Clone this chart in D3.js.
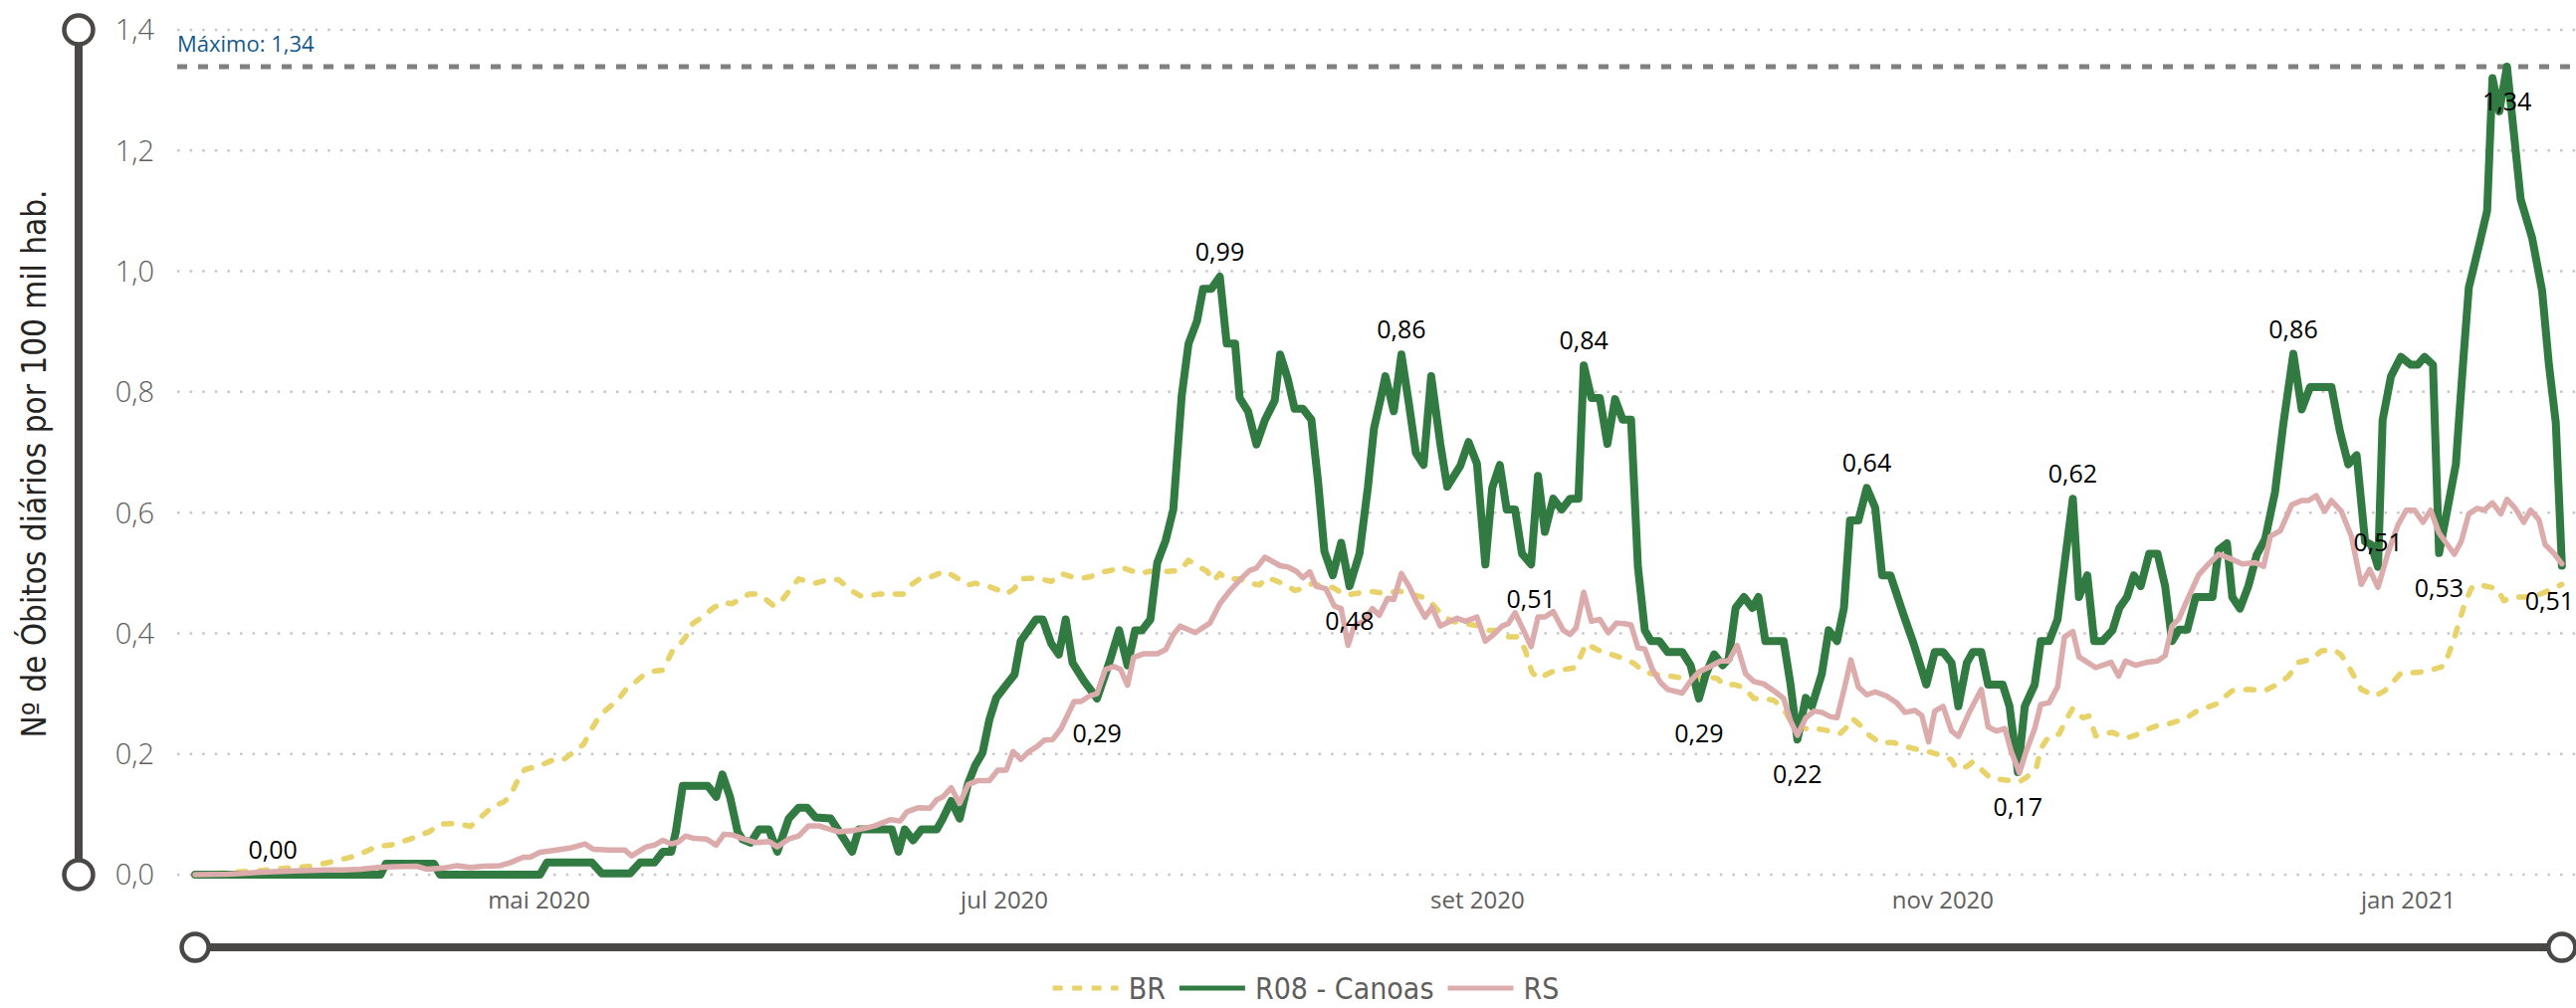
<!DOCTYPE html>
<html><head><meta charset="utf-8">
<script src="https://cdn.jsdelivr.net/npm/d3@7"></script>
<style>body{margin:0;background:#fff;overflow:hidden}svg{display:block}</style>
</head><body>
<svg id="c" width="2588" height="1013"></svg>
<script>
// ---------- DATA ----------
const START_DATE = "2020-03-17";           // day 0 of the series
const monthNames = ["jan","fev","mar","abr","mai","jun","jul","ago","set","out","nov","dez"];
const yTicks = [0, 0.2, 0.4, 0.6, 0.8, 1.0, 1.2, 1.4];
const seriesNames = ["BR", "R08 - Canoas", "RS"];
const axisTitle = "Nº de Óbitos diários por 100 mil hab.";

// [day since START_DATE, value]
const brData = [[0,0],[5.2,0.004],[8.7,0.007],[12.1,0.011],[15.2,0.014],[17.8,0.021],[20.4,0.029],[22.1,0.037],[23.9,0.047],[25.6,0.049],[28.2,0.059],[30.8,0.072],[32.1,0.084],[34.3,0.085],[36.1,0.080],[37.4,0.095],[39.1,0.114],[40.4,0.120],[41.3,0.130],[42.1,0.152],[43.2,0.174],[45.2,0.181],[46.9,0.190],[48.2,0.190],[49.5,0.202],[50.9,0.216],[52.0,0.242],[53.0,0.263],[54.3,0.278],[55.4,0.289],[56.5,0.308],[57.6,0.318],[58.7,0.330],[60.0,0.337],[61.3,0.339],[62.6,0.372],[63.5,0.381],[64.3,0.394],[65.2,0.416],[66.5,0.427],[67.8,0.441],[69.1,0.451],[70.4,0.449],[71.3,0.456],[72.6,0.465],[73.7,0.465],[74.8,0.456],[75.9,0.445],[77.0,0.456],[78.3,0.478],[79.1,0.490],[81.3,0.483],[83.0,0.489],[84.3,0.489],[86.1,0.470],[87.2,0.462],[88.3,0.462],[89.6,0.465],[91.3,0.465],[92.8,0.465],[93.9,0.481],[95.2,0.492],[96.5,0.494],[98.3,0.503],[99.8,0.492],[101.3,0.480],[102.2,0.483],[103.9,0.478],[105.2,0.472],[106.3,0.465],[107.4,0.474],[108.0,0.490],[109.5,0.491],[110.8,0.490],[112.2,0.486],[113.5,0.499],[114.8,0.494],[116.1,0.491],[117.4,0.494],[118.7,0.501],[120.0,0.504],[121.3,0.510],[122.6,0.504],[123.9,0.499],[125.2,0.503],[126.5,0.502],[127.8,0.503],[129.1,0.504],[130.2,0.521],[131.3,0.512],[132.6,0.503],[133.5,0.487],[134.3,0.499],[135.2,0.490],[137.0,0.490],[138.2,0.483],[139.5,0.480],[140.4,0.492],[141.7,0.487],[143.0,0.480],[144.1,0.471],[145.2,0.474],[146.5,0.483],[147.8,0.477],[149.1,0.476],[150.8,0.463],[152.6,0.467],[154.3,0.469],[156.0,0.466],[157.8,0.470],[160.8,0.460],[162.1,0.449],[163.4,0.431],[164.7,0.420],[166.5,0.416],[168.2,0.412],[169.5,0.405],[170.8,0.405],[172.1,0.394],[173.4,0.394],[174.3,0.373],[175.2,0.336],[176.0,0.325],[177.8,0.336],[179.5,0.340],[180.8,0.343],[181.7,0.365],[182.3,0.383],[183.9,0.372],[185.6,0.365],[187.3,0.358],[188.6,0.350],[189.9,0.336],[191.3,0.332],[192.6,0.330],[193.9,0.328],[195.2,0.325],[196.5,0.325],[198.2,0.328],[199.5,0.325],[200.4,0.314],[201.7,0.315],[203.0,0.310],[204.3,0.292],[205.6,0.292],[206.9,0.289],[208.2,0.275],[209.5,0.245],[211.7,0.241],[213.0,0.241],[214.3,0.238],[215.6,0.234],[216.5,0.245],[217.2,0.259],[218.2,0.248],[219.5,0.230],[220.8,0.219],[222.6,0.219],[223.9,0.213],[225.6,0.208],[227.4,0.203],[229.1,0.197],[230.2,0.190],[230.8,0.176],[232.2,0.179],[233.0,0.187],[234.3,0.172],[235.2,0.161],[236.5,0.158],[237.8,0.156],[239.1,0.154],[240.0,0.161],[241.3,0.176],[241.9,0.209],[243.0,0.230],[244.3,0.233],[245.2,0.256],[246.1,0.276],[247.4,0.260],[248.2,0.263],[249.1,0.230],[250.0,0.233],[251.3,0.236],[253.0,0.226],[254.3,0.231],[256.1,0.242],[257.4,0.248],[258.7,0.250],[260.9,0.259],[262.6,0.273],[264.8,0.282],[267.0,0.305],[269.1,0.307],[271.3,0.305],[273.0,0.316],[274.3,0.328],[275.7,0.352],[277.4,0.357],[278.7,0.371],[280.4,0.372],[281.3,0.364],[282.6,0.337],[283.9,0.307],[285.7,0.296],[287.0,0.305],[289.1,0.334],[291.3,0.335],[293.0,0.339],[294.8,0.346],[296.1,0.392],[297.4,0.447],[298.3,0.474],[299.1,0.481],[301.7,0.474],[302.6,0.454],[303.9,0.460],[305.7,0.460],[307.4,0.465],[308.7,0.472],[310.2,0.481]];

const canoasData = [[0,0],[10.2,0],[24.3,0],[25.0,0.018],[31.3,0.018],[32.1,0],[45.2,0],[46.1,0.02],[52.0,0.02],[53.3,0.002],[57.0,0.002],[58.3,0.020],[60.2,0.020],[61.3,0.038],[62.4,0.038],[63.0,0.071],[63.9,0.147],[67.2,0.147],[68.3,0.129],[69.1,0.166],[70.1,0.129],[71.1,0.071],[71.7,0.059],[72.8,0.053],[73.9,0.075],[75.2,0.075],[76.3,0.038],[77.8,0.093],[79.1,0.111],[80.2,0.111],[81.3,0.095],[83.3,0.093],[84.8,0.064],[86.1,0.038],[87.0,0.075],[91.3,0.075],[92.2,0.038],[93.0,0.075],[94.1,0.057],[95.2,0.075],[97.2,0.075],[98.0,0.093],[99.1,0.122],[100.2,0.093],[101.3,0.151],[102.2,0.180],[103.2,0.202],[104.1,0.257],[105.0,0.293],[106.1,0.311],[107.4,0.332],[108.2,0.387],[110.2,0.423],[111.1,0.423],[112.2,0.383],[113.2,0.365],[114.1,0.423],[115.0,0.351],[116.5,0.321],[118.2,0.292],[119.8,0.351],[121.1,0.405],[122.2,0.347],[123.2,0.405],[124.1,0.405],[125.2,0.423],[126.1,0.517],[127.2,0.554],[128.2,0.605],[129.3,0.793],[130.2,0.880],[131.3,0.917],[132.1,0.971],[133.2,0.971],[134.3,0.991],[135.2,0.880],[136.3,0.880],[136.9,0.790],[138.0,0.768],[139.1,0.713],[140.2,0.753],[141.5,0.786],[142.2,0.862],[143.2,0.822],[144.1,0.772],[145.2,0.772],[146.3,0.754],[147.2,0.648],[148.0,0.536],[149.1,0.496],[150.2,0.550],[151.3,0.478],[152.6,0.532],[153.7,0.641],[154.5,0.739],[155.4,0.790],[156.0,0.826],[157.1,0.768],[158.1,0.862],[159.1,0.779],[160.0,0.699],[161.0,0.679],[162.0,0.826],[163.2,0.714],[164.1,0.643],[165.8,0.677],[166.9,0.717],[168.0,0.681],[169.1,0.514],[170.0,0.641],[171.0,0.679],[171.9,0.605],[173.0,0.605],[173.9,0.532],[175.1,0.514],[176.0,0.661],[176.9,0.568],[178.0,0.623],[179.1,0.605],[180.2,0.623],[181.3,0.623],[182.0,0.844],[183.0,0.790],[184.1,0.790],[185.1,0.714],[186.1,0.788],[187.1,0.754],[188.2,0.754],[189.1,0.510],[190.0,0.405],[190.8,0.387],[191.9,0.387],[193.0,0.369],[194.9,0.369],[196.0,0.347],[197.1,0.292],[198.0,0.332],[199.1,0.365],[200.2,0.347],[201.0,0.358],[201.9,0.442],[203.0,0.460],[204.1,0.442],[204.9,0.460],[205.8,0.387],[208.2,0.387],[209.1,0.315],[210.0,0.224],[211.1,0.293],[211.9,0.279],[213.2,0.333],[214.1,0.405],[215.2,0.387],[216.1,0.442],[216.9,0.587],[218.0,0.587],[219.1,0.641],[220.2,0.608],[221.1,0.496],[222.2,0.496],[223.9,0.431],[225.2,0.384],[226.9,0.315],[228.0,0.369],[229.1,0.369],[230.2,0.351],[231.1,0.279],[232.2,0.351],[233.0,0.369],[234.1,0.369],[235.0,0.315],[236.9,0.315],[237.8,0.279],[238.9,0.170],[239.8,0.279],[241.1,0.315],[241.9,0.387],[243.0,0.387],[244.1,0.423],[245.0,0.514],[246.1,0.623],[246.9,0.460],[248.0,0.496],[248.9,0.387],[250.0,0.387],[251.3,0.405],[252.2,0.442],[253.2,0.460],[254.1,0.496],[255.0,0.478],[256.1,0.532],[257.2,0.532],[258.2,0.478],[259.1,0.387],[260.0,0.406],[261.1,0.406],[262.2,0.460],[264.4,0.460],[265.2,0.538],[266.3,0.549],[267.0,0.460],[268.0,0.441],[269.1,0.478],[270.2,0.530],[271.3,0.556],[272.6,0.634],[273.7,0.748],[275.0,0.863],[276.1,0.771],[277.2,0.808],[280.0,0.808],[281.1,0.735],[282.2,0.680],[283.3,0.695],[284.4,0.552],[285.2,0.547],[286.1,0.510],[286.7,0.753],[287.8,0.826],[289.1,0.858],[290.4,0.845],[291.3,0.845],[292.2,0.858],[293.3,0.845],[294.1,0.533],[295.2,0.606],[296.3,0.680],[297.2,0.840],[298.0,0.973],[299.4,1.046],[300.4,1.100],[301.1,1.320],[302.0,1.265],[303.0,1.339],[303.9,1.229],[304.8,1.119],[306.3,1.055],[307.6,0.968],[308.5,0.845],[309.4,0.749],[310.2,0.512]];

const rsData = [[0,0],[4.3,0.001],[8.7,0.004],[13.0,0.006],[17.4,0.008],[19.5,0.008],[21.7,0.009],[23.9,0.012],[26.0,0.013],[29.1,0.014],[30.4,0.009],[32.6,0.011],[34.3,0.015],[36.1,0.012],[37.8,0.014],[40.0,0.015],[41.3,0.020],[43.0,0.029],[43.9,0.029],[45.2,0.037],[46.9,0.040],[49.1,0.044],[51.1,0.051],[52.2,0.042],[54.3,0.041],[56.3,0.041],[57.2,0.031],[59.1,0.046],[60.2,0.049],[61.3,0.057],[62.4,0.051],[63.3,0.054],[64.3,0.064],[65.4,0.060],[67.0,0.059],[68.3,0.049],[69.3,0.067],[70.4,0.066],[71.7,0.060],[73.5,0.053],[75.2,0.055],[76.3,0.046],[77.8,0.059],[79.1,0.064],[80.4,0.081],[81.7,0.081],[84.3,0.071],[86.1,0.073],[87.8,0.077],[89.1,0.081],[91.1,0.091],[92.4,0.089],[93.3,0.104],[94.8,0.111],[96.3,0.110],[97.2,0.124],[98.0,0.129],[99.1,0.144],[100.2,0.118],[101.3,0.149],[102.6,0.156],[104.1,0.156],[105.2,0.173],[106.3,0.173],[107.2,0.204],[108.2,0.191],[109.3,0.204],[110.4,0.213],[111.3,0.223],[112.4,0.224],[113.5,0.242],[115.2,0.287],[116.1,0.287],[117.2,0.296],[118.2,0.300],[119.3,0.340],[120.4,0.345],[121.3,0.340],[122.2,0.314],[123.0,0.360],[124.3,0.366],[126.1,0.366],[127.2,0.373],[128.2,0.398],[129.1,0.412],[131.1,0.401],[133.0,0.417],[134.3,0.449],[135.6,0.470],[136.9,0.488],[138.2,0.504],[139.1,0.508],[140.2,0.526],[142.2,0.512],[143.2,0.510],[144.3,0.503],[145.2,0.492],[146.1,0.502],[146.9,0.478],[148.2,0.474],[149.3,0.445],[150.2,0.441],[151.1,0.380],[151.9,0.412],[153.2,0.420],[154.3,0.441],[155.2,0.430],[156.3,0.458],[157.1,0.456],[158.1,0.499],[159.1,0.478],[160.2,0.449],[161.2,0.427],[162.1,0.443],[163.2,0.412],[164.5,0.420],[165.4,0.425],[166.5,0.420],[168.0,0.427],[169.1,0.387],[170.2,0.398],[171.3,0.412],[172.1,0.416],[173.0,0.434],[174.1,0.405],[175.1,0.378],[176.0,0.427],[176.9,0.427],[178.0,0.436],[179.3,0.405],[180.2,0.398],[181.0,0.409],[182.0,0.468],[183.0,0.420],[184.1,0.423],[185.2,0.401],[186.3,0.417],[187.3,0.416],[188.2,0.414],[189.1,0.376],[190.0,0.374],[191.0,0.340],[192.1,0.318],[193.0,0.307],[194.9,0.301],[196.0,0.321],[197.1,0.336],[198.6,0.345],[199.9,0.354],[201.0,0.354],[202.1,0.380],[203.2,0.333],[204.3,0.320],[205.6,0.316],[207.1,0.303],[208.2,0.292],[209.1,0.255],[210.0,0.231],[211.1,0.260],[212.2,0.271],[213.2,0.269],[214.3,0.262],[215.2,0.260],[216.2,0.311],[217.0,0.356],[218.0,0.311],[219.1,0.298],[220.2,0.303],[221.7,0.296],[223.0,0.285],[224.1,0.269],[225.4,0.272],[226.3,0.264],[227.2,0.220],[228.0,0.271],[229.1,0.279],[230.2,0.238],[231.1,0.229],[232.6,0.271],[234.1,0.307],[235.0,0.245],[236.1,0.238],[237.2,0.242],[238.0,0.205],[239.1,0.169],[240.0,0.205],[241.1,0.242],[241.9,0.282],[243.0,0.285],[244.1,0.311],[245.0,0.394],[246.1,0.403],[246.9,0.361],[249.1,0.343],[251.1,0.352],[252.1,0.329],[253.0,0.354],[254.3,0.347],[255.8,0.352],[257.2,0.354],[258.2,0.363],[259.1,0.412],[260.0,0.424],[261.3,0.461],[262.6,0.497],[263.9,0.515],[265.2,0.531],[266.5,0.525],[268.3,0.515],[270.0,0.517],[271.1,0.511],[272.0,0.561],[273.3,0.570],[274.8,0.613],[276.1,0.620],[277.0,0.620],[278.0,0.628],[279.1,0.602],[280.0,0.620],[281.3,0.602],[282.6,0.561],[283.9,0.481],[285.0,0.506],[286.1,0.476],[287.4,0.533],[288.7,0.579],[289.8,0.604],[290.9,0.604],[292.0,0.584],[293.0,0.604],[294.1,0.566],[296.1,0.531],[297.0,0.552],[298.0,0.598],[299.1,0.607],[300.0,0.604],[301.1,0.616],[302.2,0.598],[303.0,0.622],[304.1,0.607],[305.2,0.584],[306.1,0.604],[307.2,0.588],[308.0,0.547],[309.1,0.533],[310.2,0.515]];

// data labels on the R08 - Canoas series: day and side
const labelDays  = [10.2, 118.2, 134.3, 151.3, 158.1, 175.1, 182.0, 197.1, 210.0, 219.1, 238.9, 246.1, 275.0, 286.1, 294.1, 303.0, 310.2];
const labelSides = ["above","below","above","below","above","below","above","below","below","above","below","above","above","above","below","below","below"];

// ---------- CHART ----------
const W = 2588, H = 1013;
const svg = d3.select("#c");
svg.append("rect").attr("width", W).attr("height", H).attr("fill", "#fff");

const loc = d3.formatLocale({decimal: ",", thousands: ".", grouping: [3], currency: ["R$", ""]});
const f1 = loc.format(".1f"), f2 = loc.format(".2f");

const start = new Date(START_DATE + "T00:00:00Z");
const dayToDate = d => new Date(start.getTime() + d * 864e5);

const plotLeft = 178, plotRight = 2588;
const x = d3.scaleUtc()
  .domain([new Date(Date.UTC(2020, 4, 1)), new Date(Date.UTC(2021, 0, 1))])
  .range([541, 2419]);
const y = d3.scaleLinear().domain([0, 1.4]).range([879, 30]);

const sansFont = "'Open Sans','Noto Sans','DejaVu Sans',sans-serif";
const dinFont = "'DejaVu Sans Condensed','DejaVu Sans',sans-serif";

// gridlines
svg.append("g").selectAll("line").data(yTicks).join("line")
  .attr("x1", plotLeft).attr("x2", plotRight)
  .attr("y1", d => y(d)).attr("y2", d => y(d))
  .attr("stroke", "#c8c6c4").attr("stroke-width", 2.5)
  .attr("stroke-dasharray", "2.5,10.1");

// y axis labels
const yAxis = d3.axisLeft(y).tickValues(yTicks).tickFormat(f1).tickSize(0).tickPadding(0);
const gy = svg.append("g").attr("transform", "translate(155,0)").call(yAxis);
gy.select(".domain").remove();
gy.selectAll("text").attr("font-family", sansFont).attr("font-size", 29)
  .attr("font-weight", 300).attr("fill", "#605e5c").attr("dy", "0.34em");

// x axis labels
const xAxis = d3.axisBottom(x).ticks(d3.utcMonth.every(2))
  .tickFormat(d => monthNames[d.getUTCMonth()] + " " + d.getUTCFullYear())
  .tickSize(0).tickPadding(0);
const gx = svg.append("g").attr("transform", "translate(0,913)").call(xAxis);
gx.select(".domain").remove();
gx.selectAll(".tick").filter(d => x(d) < plotLeft || x(d) > plotRight).remove();
gx.selectAll("text").attr("font-family", sansFont).attr("font-size", 24)
  .attr("fill", "#605e5c").attr("dy", 0);

// decorative axis bars
const dark = "#4a4846";
svg.append("line").attr("x1", 79).attr("x2", 79).attr("y1", y(1.4)).attr("y2", y(0))
  .attr("stroke", dark).attr("stroke-width", 8);
[y(1.4), y(0)].forEach(cy => svg.append("circle").attr("cx", 79).attr("cy", cy).attr("r", 14.5)
  .attr("fill", "#fff").attr("stroke", dark).attr("stroke-width", 4.5));
const xa = x(dayToDate(0)), xb = x(dayToDate(310.2));
svg.append("line").attr("x1", xa).attr("x2", xb).attr("y1", 952).attr("y2", 952)
  .attr("stroke", dark).attr("stroke-width", 8);
[xa, xb].forEach(cx => svg.append("circle").attr("cx", cx).attr("cy", 952).attr("r", 13.5)
  .attr("fill", "#fff").attr("stroke", dark).attr("stroke-width", 4.5));

// axis title
svg.append("text").attr("transform", "translate(46,466) rotate(-90)")
  .attr("text-anchor", "middle").attr("font-family", dinFont).attr("font-size", 33)
  .attr("fill", "#252423").text(axisTitle);

// max line
const maxVal = d3.max(canoasData, d => d[1]);
svg.append("line").attr("x1", plotLeft).attr("x2", plotRight)
  .attr("y1", y(maxVal)).attr("y2", y(maxVal))
  .attr("stroke", "#808080").attr("stroke-width", 5).attr("stroke-dasharray", "10,11");
svg.append("text").attr("x", plotLeft).attr("y", 52)
  .attr("font-family", sansFont).attr("font-size", 22).attr("fill", "#145a8d")
  .text("Máximo: " + f2(maxVal));

// series lines
const line = d3.line().x(d => x(dayToDate(d[0]))).y(d => y(d[1]));
const colors = {BR: "#e8d26a", canoas: "#317a41", RS: "#dcabab"};

svg.append("path").datum(brData).attr("d", line).attr("fill", "none")
  .attr("stroke", colors.BR).attr("stroke-width", 5.5).attr("stroke-linecap", "round")
  .attr("stroke-linejoin", "round").attr("stroke-dasharray", "8,13.5");
svg.append("path").datum(canoasData).attr("d", line).attr("fill", "none")
  .attr("stroke", colors.canoas).attr("stroke-width", 8).attr("stroke-linejoin", "round")
  .attr("stroke-linecap", "round");
svg.append("path").datum(rsData).attr("d", line).attr("fill", "none")
  .attr("stroke", colors.RS).attr("stroke-width", 5.5).attr("stroke-linejoin", "round")
  .attr("stroke-linecap", "round");

// data labels
const lg = svg.append("g");
labelDays.forEach((d, i) => {
  const pt = canoasData.find(p => Math.abs(p[0] - d) < 1e-6);
  const px = x(dayToDate(pt[0])), py = y(pt[1]);
  const t = lg.append("text").attr("font-family", sansFont).attr("font-size", 25)
    .attr("fill", "#000").attr("text-anchor", "middle").attr("dominant-baseline", "central")
    .attr("x", px).attr("y", labelSides[i] === "above" ? py - 26 : py + 34)
    .text(f2(pt[1]));
  const w = t.node().getComputedTextLength();
  if (px + w / 2 > W - 2) t.attr("x", W - 2 - w / 2);
});

// legend
const legendItems = [
  {name: seriesNames[0], color: colors.BR, dash: "10,9.5", w: 5},
  {name: seriesNames[1], color: colors.canoas, dash: null, w: 5},
  {name: seriesNames[2], color: colors.RS, dash: null, w: 5}
];
const leg = svg.append("g");
let cx = 0;
legendItems.forEach((it, i) => {
  const g = leg.append("g").attr("transform", `translate(${cx},0)`);
  g.append("line").attr("x1", 0).attr("x2", 66).attr("y1", 993).attr("y2", 993)
    .attr("stroke", it.color).attr("stroke-width", it.w)
    .attr("stroke-dasharray", it.dash);
  const t = g.append("text").attr("x", 76).attr("y", 1004).attr("font-family", dinFont)
    .attr("font-size", 30).attr("fill", "#605e5c").text(it.name);
  cx += 76 + t.node().getComputedTextLength() + 14;
});
const legW = cx - 14;
leg.attr("transform", `translate(${1312 - legW / 2},0)`);
</script>
</body></html>
